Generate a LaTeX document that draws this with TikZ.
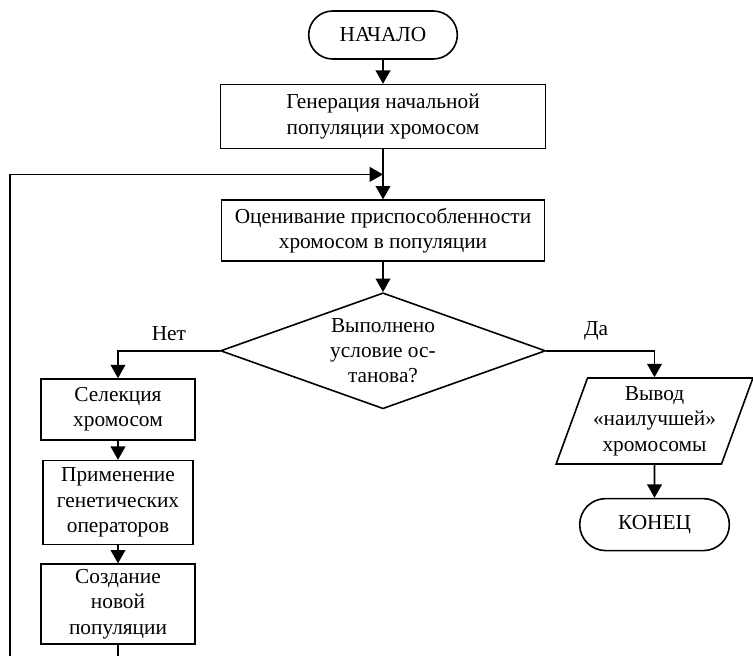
\documentclass[tikz,border=0pt]{standalone}
\usepackage{fontspec}
\setmainfont{Liberation Serif}
\usetikzlibrary{arrows.meta, positioning, shapes.geometric, shapes.misc, calc}

\begin{document}
\begin{tikzpicture}[
    x=0.75pt, y=-0.75pt,
    >={Triangle[length=10pt, width=11pt]},
    line width=1.2pt,
    every node/.style={font=\fontsize{16}{19}\selectfont, align=center},
    term/.style={draw, rounded rectangle, minimum width=115.5pt,
                 minimum height=36pt, inner sep=2pt},
    block/.style={draw, rectangle, minimum width=115.5pt, inner sep=2pt},
    cond/.style={draw, diamond, aspect=2.8, inner sep=0pt,
                 minimum width=243.75pt, minimum height=87pt},
    io/.style={draw, trapezium, trapezium left angle=68,
               trapezium right angle=112, trapezium stretches=true,
               minimum width=147.75pt, minimum height=64.5pt, inner sep=2pt}
  ]
  \useasboundingbox (0,0) rectangle (753,656);
  \clip (0,0) rectangle (753,656);

  % Main column
  \node[term] (start) at (383,35) {НАЧАЛО};
  \node[block, minimum width=243.75pt, minimum height=48pt,
        below=18pt of start] (gen) {Генерация начальной\\популяции хромосом};
  \node[block, minimum width=242pt, minimum height=45.75pt,
        below=37.5pt of gen] (eval)
        {Оценивание приспособленности\\хромосом в популяции};
  \node[cond, below=22.5pt of eval] (stop) {Выполнено\\условие ос-\\танова?};

  % Branch "Нет"
  \node[block, minimum height=45.75pt] (sel) at (118,409.5)
        {Селекция\\хромосом};
  \node[block, minimum width=112.5pt, minimum height=63pt,
        below=14.25pt of sel] (app) {Применение\\генетических\\операторов};
  \node[block, minimum height=60pt, below=13.5pt of app] (new)
        {Создание\\новой\\популяции};

  % Branch "Да"
  \node[io] (out) at (654.5,421) {Вывод\\«наилучшей»\\хромосомы};
  \node[term, minimum width=116.25pt, minimum height=39pt,
        below=24.75pt of out] (finish) {КОНЕЦ};

  % Connectors
  \coordinate (merge) at ($(gen.south)!0.5!(eval.north)$);
  \coordinate (back) at (10,680);
  \draw[->] (start) -- (gen);
  \draw[->] (gen) -- (eval);
  \draw[->] (eval) -- (stop);
  \draw[->] (stop.west) -| (sel.north)
    node[pos=0.25, above=4pt] (no) {Нет};
  \draw[->] (stop.east) -| (out.north)
    node[pos=0.23, above=4pt] (yes) {Да};
  \draw[->] (sel) -- (app);
  \draw[->] (app) -- (new);
  \draw[->] (out) -- (finish);
  \draw[->] (new.south) |- (back) |- (merge);
\end{tikzpicture}
\end{document}
